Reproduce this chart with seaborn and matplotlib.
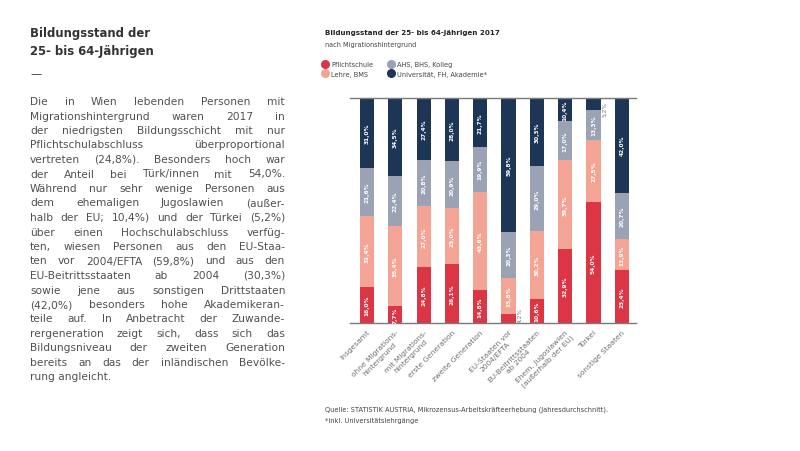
import matplotlib
matplotlib.use("Agg")
import matplotlib.pyplot as plt
from matplotlib.lines import Line2D
import seaborn as sns
import numpy as np
import pandas as pd

# ---------------- data ----------------
categories = ["Insgesamt", "ohne Migrations-\nhintergrund", "mit Migrations-\nhintergrund",
              "erste Generation", "zweite Generation", "EU-Staaten vor\n2004/EFTA",
              "EU-Beitrittsstaaten\nab 2004", "Ehem. Jugoslawien\n(außerhalb der EU)",
              "Türkei", "sonstige Staaten"]
pflichtschule = [16.0, 7.7, 24.8, 26.1, 14.8, 4.2, 10.6, 32.9, 54.0, 23.4]
lehre_bms = [31.4, 35.4, 27.0, 25.0, 43.6, 15.8, 30.2, 39.7, 27.5, 13.9]
ahs_bhs = [21.6, 22.4, 20.8, 20.9, 19.9, 20.3, 29.0, 17.0, 13.3, 20.7]
universitaet = [31.0, 34.5, 27.4, 28.0, 21.7, 59.8, 30.3, 10.4, 5.2, 42.0]
series_names = ["Pflichtschule", "Lehre, BMS", "AHS, BHS, Kolleg", "Universität, FH, Akademie*"]

title = "Bildungsstand der 25- bis 64-Jährigen 2017"
subtitle = "nach Migrationshintergrund"
source = "Quelle: STATISTIK AUSTRIA, Mikrozensus-Arbeitskräfteerhebung (Jahresdurchschnitt)."
footnote = "*inkl. Universitätslehrgänge"
heading = ["Bildungsstand der", "25- bis 64-Jährigen"]
body_lines = [
    "Die in Wien lebenden Personen mit",
    "Migrationshintergrund waren 2017 in",
    "der niedrigsten Bildungsschicht mit nur",
    "Pflichtschulabschluss überproportional",
    "vertreten (24,8%). Besonders hoch war",
    "der Anteil bei Türk/innen mit 54,0%.",
    "Während nur sehr wenige Personen aus",
    "dem ehemaligen Jugoslawien (außer-",
    "halb der EU; 10,4%) und der Türkei (5,2%)",
    "über einen Hochschulabschluss verfüg-",
    "ten, wiesen Personen aus den EU-Staa-",
    "ten vor 2004/EFTA (59,8%) und aus den",
    "EU-Beitrittsstaaten ab 2004 (30,3%)",
    "sowie jene aus sonstigen Drittstaaten",
    "(42,0%) besonders hohe Akademikeran-",
    "teile auf. In Anbetracht der Zuwande-",
    "rergeneration zeigt sich, dass sich das",
    "Bildungsniveau der zweiten Generation",
    "bereits an das der inländischen Bevölke-",
    "rung angleicht.",
]

colors = ["#dc3545", "#f4a495", "#9aa2b4", "#1d3656"]

# ---------------- figure ----------------
sns.set_theme(style="white")
plt.rcParams["font.family"] = ["DejaVu Sans"]
W, H = 800, 452
fig = plt.figure(figsize=(8, 4.52), dpi=100)

def fx(px):
    return px / W

def fy(py):
    return 1 - py / H

ax = fig.add_axes([fx(350), fy(324), fx(636) - fx(350), fy(99) - fy(324)])

df = pd.DataFrame({"cat": categories,
                   "p": pflichtschule, "l": lehre_bms, "a": ahs_bhs, "u": universitaet})
layers = [df["p"].values, df["l"].values, df["a"].values, df["u"].values]
cum = np.cumsum(np.vstack(layers), axis=0)

for i in range(3, -1, -1):
    sns.barplot(x=df["cat"], y=cum[i], color=colors[i], width=0.5, ax=ax,
                saturation=1, order=categories, linewidth=0)

ax.set_ylim(0, 100)
ax.set_xlim(-0.6, 9.5)
ax.set_ylabel("")
ax.set_xlabel("")
ax.set_yticks([])
for s in ["left", "right"]:
    ax.spines[s].set_visible(False)
for s in ["top", "bottom"]:
    ax.spines[s].set_visible(True)
    ax.spines[s].set_color("#7a7a7a")
    ax.spines[s].set_linewidth(1.0)
ax.tick_params(axis="x", length=0, pad=4)
ax.set_xticks(range(len(categories)))
ax.set_xticklabels(categories, rotation=45, ha="right", rotation_mode="anchor",
                   fontsize=5.4, color="#707070", multialignment="center")

# segment labels
def fmt(v):
    return f"{v:.1f}%".replace(".", ",")

for j in range(len(categories)):
    bottom = 0
    for i in range(4):
        v = layers[i][j]
        mid = bottom + v / 2
        if v < 7:
            ypos = bottom + 4 if i == 0 else 100 - 4.5
            ax.text(j + 0.4, ypos, fmt(v), rotation=90,
                    ha="center", va="center", fontsize=4.2, color="#777777")
        else:
            ax.text(j, mid, fmt(v), rotation=90, ha="center", va="center",
                    fontsize=4.2, color="white", fontweight="bold")
        bottom += v

# chart title etc.
fig.text(fx(325), fy(33), title, fontsize=5.1, fontweight="bold", color="#222222", va="center")
fig.text(fx(325), fy(45), subtitle, fontsize=4.7, color="#444444", va="center")

handles = [Line2D([0], [0], marker="o", linestyle="", markersize=5.5,
                  markerfacecolor=c, markeredgecolor=c) for c in colors]
fig.legend(handles, series_names, loc="upper left", bbox_to_anchor=(fx(322), fy(62)),
           ncol=2, frameon=False, fontsize=4.8, handletextpad=0.4, columnspacing=2.2,
           labelspacing=0.55, borderaxespad=0, borderpad=0, handlelength=1.0,
           labelcolor="#444444")

fig.text(fx(325), fy(410), source, fontsize=4.8, color="#444444", va="center")
fig.text(fx(325), fy(421), footnote, fontsize=4.8, color="#444444", va="center")

# left text column
for k, line in enumerate(heading):
    fig.text(fx(30), fy(33 + 19 * k), line, fontsize=8.4, fontweight="semibold",
             color="#333333", va="center")
fig.text(fx(30), fy(74), "—", fontsize=8, color="#333333", va="center")

renderer = fig.canvas.get_renderer()
x0_px, x1_px = 30, 285
y_first, dy = 102, 14.5

def text_width(s, size):
    t = fig.text(0, 0, s, fontsize=size)
    w = t.get_window_extent(renderer).width
    t.remove()
    return w

# choose font size relative to the column width
base = 7.0
widest = max(text_width(l, base) for l in body_lines[:-1])
body_size = base * (x1_px - x0_px) / widest * 0.88
body_kw = dict(fontsize=body_size, color="#505050", va="center")
for k, line in enumerate(body_lines):
    y = fy(y_first + dy * k)
    words = line.split(" ")
    if k == len(body_lines) - 1 or len(words) == 1:
        fig.text(fx(x0_px), y, line, **body_kw)
        continue
    widths = [text_width(wd, body_size) for wd in words]
    gap = (x1_px - x0_px - sum(widths)) / (len(words) - 1)
    xpos = x0_px
    for wd, wdt in zip(words, widths):
        fig.text(fx(xpos), y, wd, **body_kw)
        xpos += wdt + gap

fig.savefig("out.png", dpi=100, facecolor="white")
